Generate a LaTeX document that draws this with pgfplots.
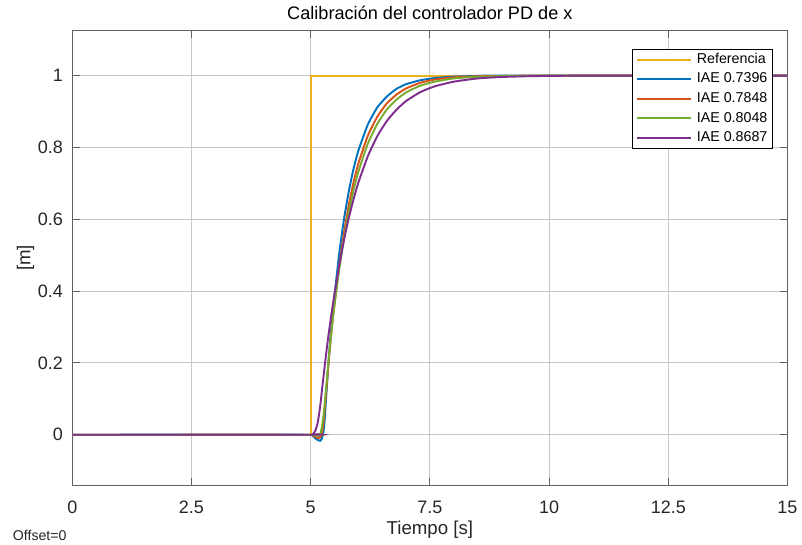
\documentclass[border=0pt]{standalone}
\usepackage{fontspec}
\setmainfont{Liberation Sans}
\usepackage{pgfplots}
\pgfplotsset{compat=1.18}

\definecolor{mlyellow}{rgb}{0.929,0.694,0.125}
\definecolor{mlblue}{rgb}{0,0.447,0.741}
\definecolor{mlorange}{rgb}{0.850,0.325,0.098}
\definecolor{mlgreen}{rgb}{0.466,0.674,0.188}
\definecolor{mlpurple}{rgb}{0.494,0.184,0.556}
\definecolor{axgray}{gray}{0.15}

\begin{document}
\begin{tikzpicture}
\begin{axis}[
  scale only axis,
  width=536.3pt, height=340.7pt,
  xmin=0, xmax=15, ymin=-0.14, ymax=1.125,
  xtick={0,2.5,5,7.5,10,12.5,15},
  ytick={0,0.2,0.4,0.6,0.8,1},
  tick align=inside,
  major tick length=5.5pt,
  grid=major,
  major grid style={line width=0.75pt, draw=black!22},
  axis line style={draw=black!62, line width=0.7pt},
  tick style={draw=black!62, line width=0.7pt},
  /pgf/number format/assume math mode=true,
  ticklabel style={font=\fontsize{13.5}{16}\selectfont, text=axgray},
  yticklabel style={inner sep=0pt, xshift=-6.75pt},
  xticklabel style={anchor=base, inner sep=0pt, yshift=-21.2pt},
  every axis title shift=0pt,
  title={Calibración del controlador PD de x},
  title style={at={(axis description cs:0.5,1.0235)}, anchor=base,
    font=\fontsize{13.6}{16}\selectfont, inner sep=0pt},
  xlabel={Tiempo [s]},
  xlabel style={at={(axis description cs:0.5,-0.108)}, anchor=base,
    font=\fontsize{14}{16}\selectfont, text=axgray, inner sep=0pt},
  ylabel={[m]},
  ylabel style={at={(axis description cs:-0.0585,0.5)}, anchor=base,
    font=\fontsize{14}{16}\selectfont, text=axgray, inner sep=0pt},
  every axis plot/.append style={line width=1.45pt},
  legend image code/.code={\draw[#1] (0pt,0pt) -- (40.5pt,0pt);},
  legend style={at={(axis description cs:0.980,0.960)}, anchor=north east,
    draw=black, line width=0.6pt, fill=white,
    font=\fontsize{10.7}{13}\selectfont,
    inner xsep=3pt, inner ysep=1.5pt, row sep=2.2pt, column sep=2.5pt,
    cells={anchor=west},
    nodes={inner sep=1pt, text height=8pt, text depth=2.5pt}},
]
% step reference
\addplot[mlyellow] coordinates {(0,0) (5,0) (5,1) (15,1)};
\addlegendentry{Referencia}

% IAE 0.7396
\addplot[mlblue, smooth, tension=0.3] coordinates {
 (0,0) (5,0) (5.05,-0.004) (5.10,-0.010) (5.15,-0.015) (5.20,-0.017)
 (5.23,-0.012) (5.26,0.002) (5.28,0.022) (5.30,0.055) (5.32,0.095)
 (5.34,0.135) (5.36,0.175) (5.38,0.212) (5.40,0.247) (5.43,0.295)
 (5.46,0.338) (5.48,0.362) (5.51,0.400) (5.60,0.506) (5.70,0.601)
 (5.80,0.678) (5.90,0.741) (6.00,0.791) (6.20,0.864) (6.40,0.912)
 (6.60,0.942) (6.80,0.963) (7.00,0.976) (7.30,0.987) (7.60,0.993)
 (8.00,0.997) (8.50,0.999) (9.00,1.000) (15,1.000)};
\addlegendentry{IAE 0.7396}

% IAE 0.7848
\addplot[mlorange, smooth, tension=0.3] coordinates {
 (0,0) (5,0) (5.05,-0.002) (5.10,-0.006) (5.15,-0.009) (5.18,-0.0095)
 (5.21,-0.005) (5.24,0.008) (5.26,0.025) (5.28,0.050) (5.30,0.080)
 (5.33,0.128) (5.36,0.176) (5.39,0.222) (5.42,0.265) (5.45,0.305)
 (5.48,0.342) (5.51,0.375) (5.535,0.400) (5.60,0.471) (5.70,0.563)
 (5.80,0.640) (5.90,0.703) (6.00,0.755) (6.20,0.833) (6.40,0.886)
 (6.60,0.923) (6.80,0.947) (7.00,0.964) (7.30,0.980) (7.60,0.989)
 (8.00,0.995) (8.50,0.998) (9.00,0.999) (10.0,1.000) (15,1.000)};
\addlegendentry{IAE 0.7848}

% IAE 0.8048
\addplot[mlgreen, smooth, tension=0.3] coordinates {
 (0,0) (5,0) (5.05,-0.001) (5.10,-0.003) (5.15,-0.004) (5.18,-0.002)
 (5.21,0.006) (5.24,0.025) (5.27,0.055) (5.30,0.095) (5.33,0.140)
 (5.36,0.185) (5.39,0.228) (5.42,0.268) (5.45,0.305) (5.48,0.340)
 (5.51,0.372) (5.537,0.400) (5.60,0.462) (5.70,0.548) (5.80,0.620)
 (5.90,0.681) (6.00,0.732) (6.20,0.811) (6.40,0.866) (6.60,0.906)
 (6.80,0.933) (7.00,0.953) (7.30,0.972) (7.60,0.983) (8.00,0.992)
 (8.50,0.9965) (9.00,0.9985) (9.50,0.9994) (10.0,0.9997) (11.0,1.000)
 (15,1.000)};
\addlegendentry{IAE 0.8048}

% IAE 0.8687
\addplot[mlpurple, smooth, tension=0.3] coordinates {
 (0,0) (5,0) (5.05,0.002) (5.10,0.012) (5.15,0.035) (5.20,0.080)
 (5.25,0.140) (5.30,0.198) (5.35,0.253) (5.40,0.303) (5.45,0.349)
 (5.51,0.400) (5.60,0.472) (5.70,0.543) (5.80,0.604) (5.90,0.656)
 (6.00,0.702) (6.20,0.776) (6.40,0.832) (6.60,0.874) (6.80,0.905)
 (7.00,0.929) (7.30,0.954) (7.60,0.970) (8.00,0.983) (8.50,0.992)
 (9.00,0.996) (9.50,0.998) (10.0,0.999) (11.0,1.000) (15,1.000)};
\addlegendentry{IAE 0.8687}
\end{axis}

\node[anchor=base west, inner sep=0pt, font=\fontsize{10.6}{12}\selectfont, text=axgray]
  at ([xshift=-44.7pt,yshift=-41.6pt]current axis.south west) {Offset=0};

\pgfresetboundingbox
\path ([xshift=-54.2pt,yshift=-44.25pt]current axis.south west)
  rectangle ([xshift=10.9pt,yshift=23pt]current axis.north east);
\end{tikzpicture}
\end{document}
